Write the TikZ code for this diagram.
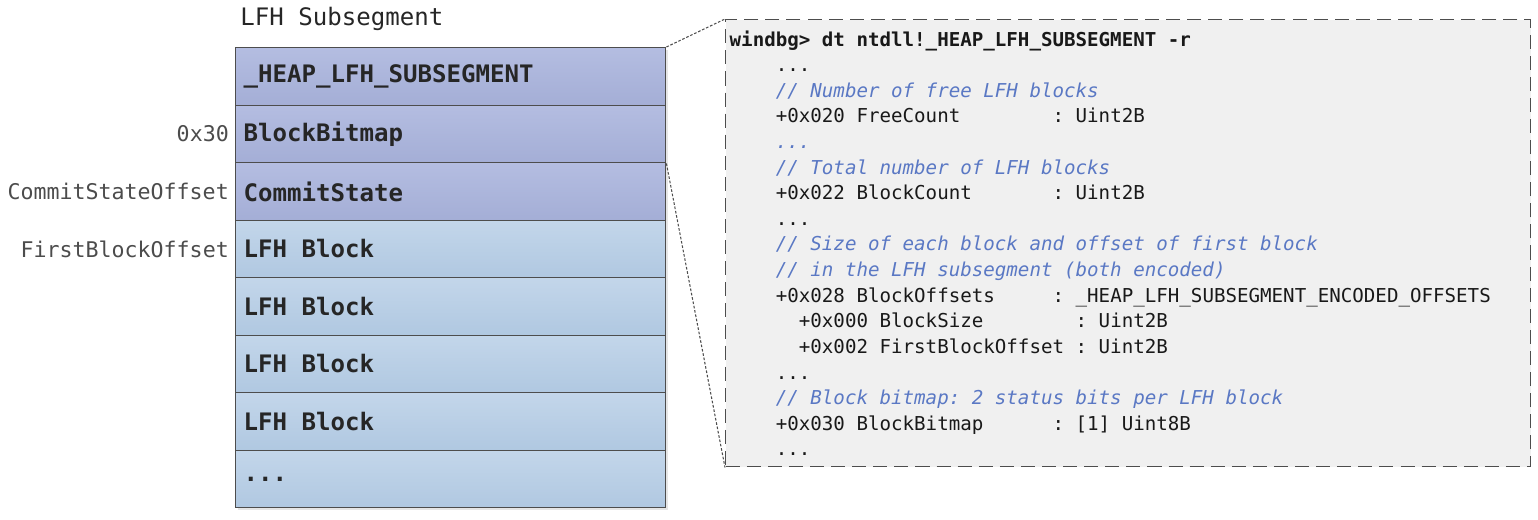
\documentclass[tikz,border=0pt]{standalone}
\usepackage{fontspec}
\setmonofont{DejaVu Sans Mono}
\usetikzlibrary{shadows}
\definecolor{hdrtop}{HTML}{B4BDE1}
\definecolor{hdrbot}{HTML}{A4AED6}
\definecolor{blktop}{HTML}{C3D6EA}
\definecolor{blkbot}{HTML}{B0C8E1}
\definecolor{cmtblue}{HTML}{5A78C4}
\definecolor{codebg}{HTML}{F0F0F0}
\definecolor{edge}{HTML}{4D4D4D}
\newcommand{\cmt}[1]{{\color{cmtblue}\itshape #1}}
\newcommand{\ddd}{...}
% full-width spaces in the mono font
\newcommand{\fixsp}{\spaceskip=\fontcharwd\font48\relax\xspaceskip=\spaceskip}

\tikzset{
  mono/.style={execute at begin node=\fixsp},
  row/.style={rectangle, draw=edge, line width=0.8pt, anchor=north west,
    minimum height=1.15cm, text width=8.28cm, inner xsep=0.16cm, align=left,
    font=\ttfamily\bfseries\fontsize{13.7}{16}\selectfont, text=black!85, mono,
    drop shadow={opacity=0.2, shadow xshift=0.05cm, shadow yshift=-0.05cm}},
  offlbl/.style={anchor=east, font=\ttfamily\fontsize{12.3}{14}\selectfont, text=black!70, mono},
  title/.style={anchor=base west, inner sep=0pt, font=\ttfamily\fontsize{13.7}{16}\selectfont, text=black!85, mono},
  codebox/.style={rectangle, draw=edge, line width=0.8pt, dash pattern=on 8pt off 4pt,
    fill=codebg, anchor=north west, minimum width=16.1cm, minimum height=8.94cm,
    text width=15.94cm, inner xsep=0.08cm, align=left, text=black!90, mono,
    font=\ttfamily\fontsize{10.9}{14.57}\selectfont},
  zoomline/.style={draw=edge, line width=0.6pt, dash pattern=on 1.5pt off 1pt}
}

\begin{document}
\begin{tikzpicture}
  \useasboundingbox (0,0) rectangle (30.76,10.38);
  %the subsegment
  \node[title] (ttl) at (4.80,9.86) {LFH Subsegment};
  \foreach \txt [count=\i] in {\_HEAP\_LFH\_SUBSEGMENT, BlockBitmap, CommitState,
      LFH Block, LFH Block, LFH Block, LFH Block, \ddd}{
    \ifnum\i<4 \colorlet{rtop}{hdrtop}\colorlet{rbot}{hdrbot}%
    \else \colorlet{rtop}{blktop}\colorlet{rbot}{blkbot}\fi
    \node[row, top color=rtop, bottom color=rbot] (r\i) at (4.7,{9.44-1.15*(\i-1)}) {\txt};
  }
  %offsets
  \node[offlbl] (o2) at (r2.west) {0x30};
  \node[offlbl] (o3) at (r3.west) {CommitStateOffset};
  \node[offlbl] (o4) at (r4.west) {FirstBlockOffset};
  %windbg output
  \node[codebox] (code) at (14.5,10.0) {%
    {\bfseries windbg> dt ntdll!\_HEAP\_LFH\_SUBSEGMENT -r}\\
    ~~~~...\\
    ~~~~\cmt{// Number of free LFH blocks}\\
    ~~~~+0x020 FreeCount~~~~~~~~: Uint2B\\
    ~~~~\cmt{...}\\
    ~~~~\cmt{// Total number of LFH blocks}\\
    ~~~~+0x022 BlockCount~~~~~~~: Uint2B\\
    ~~~~...\\
    ~~~~\cmt{// Size of each block and offset of first block}\\
    ~~~~\cmt{// in the LFH subsegment (both encoded)}\\
    ~~~~+0x028 BlockOffsets~~~~~: \_HEAP\_LFH\_SUBSEGMENT\_ENCODED\_OFFSETS\\
    ~~~~~~+0x000 BlockSize~~~~~~~~: Uint2B\\
    ~~~~~~+0x002 FirstBlockOffset : Uint2B\\
    ~~~~...\\
    ~~~~\cmt{// Block bitmap: 2 status bits per LFH block}\\
    ~~~~+0x030 BlockBitmap~~~~~~: [1] Uint8B\\
    ~~~~...};
  \draw[zoomline] (r1.north east) -- (code.north west);
  \draw[zoomline] (r2.south east) -- (code.south west);
\end{tikzpicture}
\end{document}
